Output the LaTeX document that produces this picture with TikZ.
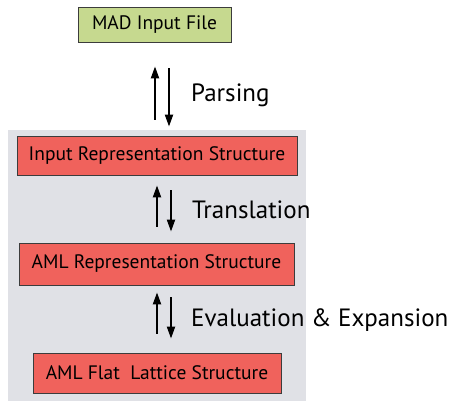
\documentclass[tikz,border=0pt]{standalone}
\usepackage{fontspec}
\setmainfont{PT Sans}
\usetikzlibrary{arrows.meta}
\definecolor{boxred}{RGB}{240,98,92}
\definecolor{boxgreen}{RGB}{198,217,143}
\definecolor{panelgray}{RGB}{224,225,230}
\definecolor{edgegray}{RGB}{60,60,60}
\tikzset{
  stage/.style={draw=edgegray, line width=0.8pt, fill=boxred, inner sep=0pt,
    font=\fontsize{19.5}{22}\selectfont},
  flow/.style={line width=2pt, -{Triangle[length=12pt,width=8pt]}},
  steplabel/.style={anchor=west, inner sep=0pt, font=\fontsize{25}{28}\selectfont}
}
\begin{document}
\begin{tikzpicture}[x=1pt,y=-1pt]
    \useasboundingbox (0,0) rectangle (450,403) ;
    \fill [panelgray] (8,130) rectangle (306,401) ;
    % boxes
    \node [stage, fill=boxgreen, minimum width=153pt, minimum height=35pt]
      (mad) at (154.5,24.5) {MAD Input File} ;
    \node [stage, minimum width=280pt, minimum height=39pt]
      (inrep) at (157,155.5) {Input Representation Structure} ;
    \node [stage, minimum width=275pt, minimum height=42pt]
      (amlrep) at (156.5,264) {AML Representation Structure} ;
    \node [stage, minimum width=248pt, minimum height=40pt]
      (flat) at (157,373) {AML Flat\ \ Lattice Structure} ;
    % arrows
    \draw [flow] ([xshift=-2pt,yshift=16pt]inrep.north) --
      ([xshift=0.5pt,yshift=-24pt]mad.south) ;
    \draw [flow] ([xshift=14.5pt,yshift=-26pt]mad.south) --
      ([xshift=12pt,yshift=9pt]inrep.north) ;
    \draw [flow] ([xshift=0.5pt,yshift=16pt]amlrep.north) --
      ([yshift=-10pt]inrep.south) ;
    \draw [flow] ([xshift=14pt,yshift=-15pt]inrep.south) --
      ([xshift=14.5pt,yshift=11pt]amlrep.north) ;
    \draw [flow] ([yshift=19pt]flat.north) --
      ([xshift=0.5pt,yshift=-7pt]amlrep.south) ;
    \draw [flow] ([xshift=14.5pt,yshift=-12pt]amlrep.south) --
      ([xshift=14pt,yshift=14pt]flat.north) ;
    % labels
    \node [steplabel] (parse) at (191,95) {Parsing} ;
    \node [steplabel] (trans) at (192,210) {Translation} ;
    \node [steplabel] (evalx) at (191,320) {Evaluation \& Expansion} ;
\end{tikzpicture}
\end{document}
